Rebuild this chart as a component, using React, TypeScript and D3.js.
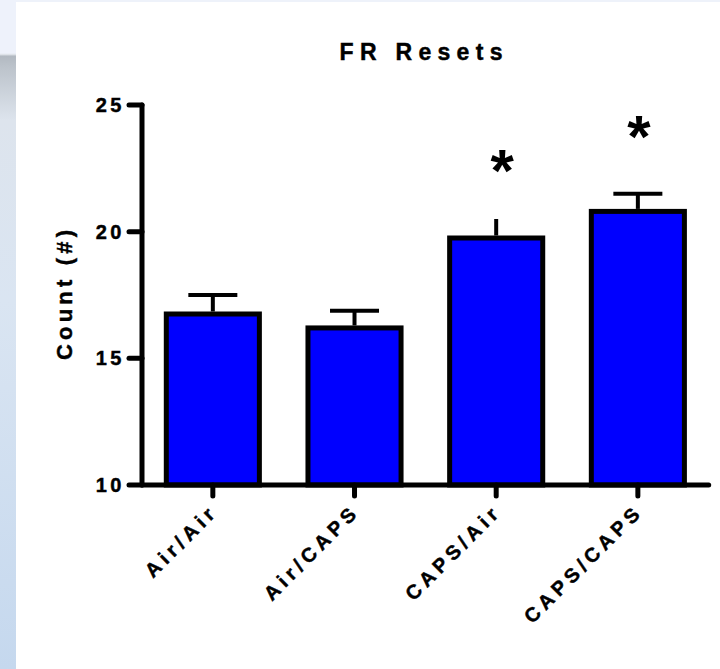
import React from "react";
import * as d3 from "d3";

const categories = ["Air/Air", "Air/CAPS", "CAPS/Air", "CAPS/CAPS"];
const means = [16.75, 16.2, 19.75, 20.8];
const sems = [0.75, 0.68, 0.75, 0.7];
const showCap = [true, true, false, true];
const starCats = ["CAPS/Air", "CAPS/CAPS"];
const starY = [22.75, 24.1];
const yTicks = [10, 15, 20, 25];
const title = "FR Resets";
const yLabel = "Count (#)";

const W = 720;
const H = 669;
const FONT = "'Liberation Sans', Arial, Helvetica, sans-serif";

export default function App() {
  const x = d3
    .scaleBand<string>()
    .domain(categories)
    .range([142, 708.7])
    .paddingInner(0.343)
    .paddingOuter(0.1715);
  const y = d3.scaleLinear().domain([10, 25]).range([485, 105]);
  const bw = x.bandwidth();
  const cx = (c: string) => (x(c) as number) + bw / 2;
  const capW = 49;
  const starSize = 60;
  const starShift = [6, 1];
  const textStroke = { stroke: "#000", strokeWidth: 0.45 };

  return (
    <svg
      width={W}
      height={H}
      style={{ position: "absolute", left: 0, top: 0, background: "#fff" }}
      fontFamily={FONT}
    >
      <defs>
        <linearGradient id="side" x1="0" y1="0" x2="0" y2="1">
          <stop offset="0" stopColor="#eef2fb" />
          <stop offset="0.079" stopColor="#eef2fb" />
          <stop offset="0.081" stopColor="#e6eaf0" />
          <stop offset="0.084" stopColor="#b2b9c1" />
          <stop offset="0.1" stopColor="#bcc3cb" />
          <stop offset="0.18" stopColor="#dde4ed" />
          <stop offset="0.45" stopColor="#dae5f2" />
          <stop offset="1" stopColor="#c5d8ee" />
        </linearGradient>
      </defs>
      <rect x={0} y={0} width={W} height={2} fill="#eef2fa" />
      <rect x={0} y={0} width={16} height={H} fill="url(#side)" />

      {/* title */}
      <text
        x={421}
        y={60}
        textAnchor="middle"
        fontSize={23}
        fontWeight="bold"
        letterSpacing={6.3}
        dx={3.15}
        {...textStroke}
      >
        {title}
      </text>

      {/* y label */}
      <text
        transform={`translate(72,${(y(10) + y(25)) / 2}) rotate(-90)`}
        textAnchor="middle"
        fontSize={22}
        fontWeight="bold"
        letterSpacing={4.2}
        dx={2.1}
        {...textStroke}
      >
        {yLabel}
      </text>

      {/* bars */}
      {categories.map((c, i) => (
        <rect
          key={c}
          x={x(c) as number}
          y={y(means[i])}
          width={bw}
          height={y(10) - y(means[i])}
          fill="#0000ff"
          stroke="#000"
          strokeWidth={5}
        />
      ))}

      {/* error bars */}
      {categories.map((c, i) => (
        <g key={c} stroke="#000" strokeWidth={4}>
          <line x1={cx(c)} x2={cx(c)} y1={y(means[i]) - 2.5} y2={y(means[i] + sems[i])} />
          {showCap[i] && (
            <line
              x1={cx(c) - capW / 2}
              x2={cx(c) + capW / 2}
              y1={y(means[i] + sems[i])}
              y2={y(means[i] + sems[i])}
            />
          )}
        </g>
      ))}

      {/* stars */}
      {starCats.map((c, i) => (
        <text
          key={c}
          x={cx(c) + starShift[i]}
          y={y(starY[i]) + starSize * 0.49}
          textAnchor="middle"
          fontSize={starSize}
          fontWeight="bold"
        >
          *
        </text>
      ))}

      {/* y axis */}
      <line x1={142} x2={142} y1={y(25)} y2={y(10)} stroke="#000" strokeWidth={5} strokeLinecap="round" />
      {yTicks.map((t) => (
        <g key={t}>
          <line x1={129} x2={142} y1={y(t)} y2={y(t)} stroke="#000" strokeWidth={5} strokeLinecap="round" />
          <text
            x={125}
            y={y(t) + 7}
            textAnchor="end"
            fontSize={20}
            fontWeight="bold"
            letterSpacing={3.5}
            {...textStroke}
          >
            {t}
          </text>
        </g>
      ))}

      {/* x axis */}
      <line x1={142} x2={708.7} y1={y(10)} y2={y(10)} stroke="#000" strokeWidth={5} strokeLinecap="round" />
      {categories.map((c) => (
        <g key={c}>
          <line x1={cx(c)} x2={cx(c)} y1={y(10)} y2={y(10) + 11} stroke="#000" strokeWidth={5} strokeLinecap="round" />
          <text
            transform={`translate(${cx(c) + 3},${516}) rotate(-45)`}
            textAnchor="end"
            fontSize={20}
            fontWeight="bold"
            letterSpacing={4.6}
            dx={4.6}
            {...textStroke}
          >
            {c}
          </text>
        </g>
      ))}
    </svg>
  );
}
